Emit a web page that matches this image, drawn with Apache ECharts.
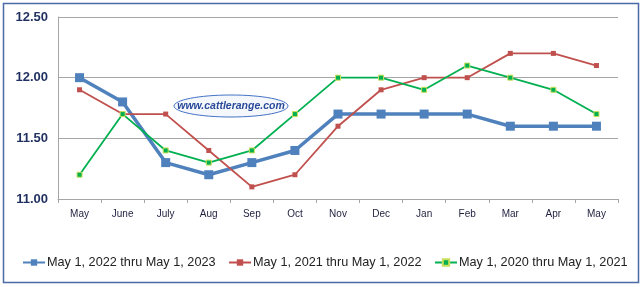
<!DOCTYPE html>
<html><head><meta charset="utf-8">
<script src="https://cdn.jsdelivr.net/npm/echarts@6/dist/echarts.min.js"></script>
<style>html,body{margin:0;padding:0;background:#fff}#c{width:643px;height:287px}</style>
</head><body><div id="c"></div>
<script>
const categories = ['May','June','July','Aug','Sep','Oct','Nov','Dec','Jan','Feb','Mar','Apr','May'];
const yTicks = ['11.00','11.50','12.00','12.50'];
const s2022 = [12.0, 11.8, 11.3, 11.2, 11.3, 11.4, 11.7, 11.7, 11.7, 11.7, 11.6, 11.6, 11.6];
const s2021 = [11.9, 11.7, 11.7, 11.4, 11.1, 11.2, 11.6, 11.9, 12.0, 12.0, 12.2, 12.2, 12.1];
const s2020 = [11.2, 11.7, 11.4, 11.3, 11.4, 11.7, 12.0, 12.0, 11.9, 12.1, 12.0, 11.9, 11.7];
const names = ['May 1, 2022 thru May 1, 2023','May 1, 2021 thru May 1, 2022','May 1, 2020 thru May 1, 2021'];

const legendLeft = [22, 228, 434];
const chart = echarts.init(document.getElementById('c'), null, {renderer:'canvas'});
chart.setOption({
  animation:false,
  textStyle:{fontFamily:'Liberation Sans, Arial, sans-serif'},
  grid:{left:58, right:25, top:17, bottom:88},
  graphic:[
    {type:'rect', shape:{x:3.5,y:3.5,width:635,height:279}, style:{fill:'none', stroke:'#4a6aa8', lineWidth:1.5}, silent:true, z:-1},
    {type:'ellipse', shape:{cx:231, cy:106, rx:57, ry:11}, style:{fill:'#f4f7fc', stroke:'#4472c4', lineWidth:1}, z:1},
    {type:'text', x:231, y:106, style:{text:'www.cattlerange.com', fill:'#2a4a9a', font:'italic bold 10.5px Liberation Sans, Arial', textAlign:'center', textVerticalAlign:'middle'}, z:2}
  ],
  xAxis:{type:'category', data:categories, boundaryGap:true,
    axisLine:{lineStyle:{color:'#a6a6a6'}},
    axisTick:{show:true, alignWithLabel:false, length:4, lineStyle:{color:'#a6a6a6'}},
    axisLabel:{color:'#1f1f3f', fontSize:10, margin:10}},
  yAxis:{type:'value', min:11, max:12.5, interval:0.5,
    axisLine:{show:true, lineStyle:{color:'#a6a6a6'}},
    axisTick:{show:false},
    splitLine:{lineStyle:{color:'#a6a6a6'}},
    axisLabel:{color:'#1f2f5f', fontSize:13, fontWeight:'bold', margin:10,
      formatter:(v)=>{const i=Math.round((v-11)/0.5); return yTicks[i]||v.toFixed(2);}}},
  legend: names.map((n,i)=>({top:256, left:legendLeft[i], itemWidth:22, itemHeight:8, padding:0,
    textStyle:{fontSize:12.7, color:'#222', padding:[0,0,0,-3]}, data:[n]})),
  series:[
    {name:names[0], type:'line', data:s2022, symbol:'rect', symbolSize:9,
      lineStyle:{color:'#4f81bd', width:3.5}, itemStyle:{color:'#4f81bd'}, z:3},
    {name:names[1], type:'line', data:s2021, symbol:'rect', symbolSize:5,
      lineStyle:{color:'#c0504d', width:1.8}, itemStyle:{color:'#c0504d'}, z:4},
    {name:names[2], type:'line', data:s2020, symbol:'rect', symbolSize:5,
      lineStyle:{color:'#00b050', width:1.8}, itemStyle:{color:'#00b050', borderColor:'#c8e05a', borderWidth:1}, z:5}
  ]
});
</script></body></html>
